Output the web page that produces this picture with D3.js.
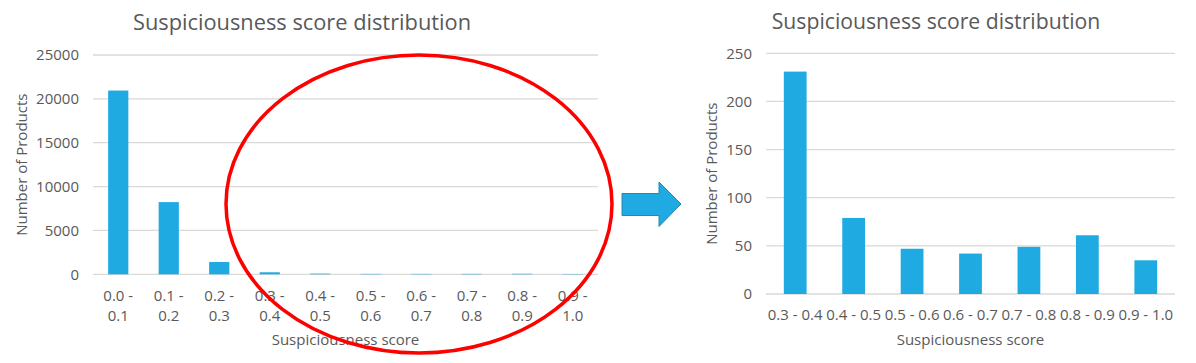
<!DOCTYPE html>
<html>
<head>
<meta charset="utf-8">
<script src="https://cdn.jsdelivr.net/npm/d3@7"></script>
<style>
  body { margin: 0; background: #fff; }
  svg text { font-family: "Open Sans", sans-serif; fill: #595959; }
</style>
</head>
<body>
<div id="chart"></div>
<script>
// data
const allBins = ["0.0 - 0.1", "0.1 - 0.2", "0.2 - 0.3", "0.3 - 0.4", "0.4 - 0.5",
                 "0.5 - 0.6", "0.6 - 0.7", "0.7 - 0.8", "0.8 - 0.9", "0.9 - 1.0"];
const allCounts = [20950, 8230, 1400, 231, 79, 47, 42, 49, 61, 35];
const allTicks = [0, 5000, 10000, 15000, 20000, 25000];

const zoomBins = ["0.3 - 0.4", "0.4 - 0.5", "0.5 - 0.6", "0.6 - 0.7", "0.7 - 0.8", "0.8 - 0.9", "0.9 - 1.0"];
const zoomCounts = [231, 79, 47, 42, 49, 61, 35];
const zoomTicks = [0, 50, 100, 150, 200, 250];

const chartTitle = "Suspiciousness score distribution";
const xTitle = "Suspiciousness score";
const yTitle = "Number of Products";

const width = 1196;
const height = 363;
const barColor = "#1fabe2";

const svg = d3.select("#chart")
  .append("svg")
    .attr("width", width)
    .attr("height", height);

// one excel-style column chart
function drawChart(opt) {
  const x = d3.scaleBand()
    .domain(opt.bins)
    .range([opt.left, opt.right])
    .paddingInner(opt.pad)
    .paddingOuter(opt.pad / 2);
  const y = d3.scaleLinear()
    .domain([0, d3.max(opt.ticks)])
    .range([opt.bottom, opt.top]);

  const g = svg.append("g");

  // gridlines
  g.selectAll(".grid")
    .data(opt.ticks)
    .join("line")
      .attr("x1", opt.left)
      .attr("x2", opt.right)
      .attr("y1", d => y(d))
      .attr("y2", d => y(d))
      .attr("stroke", "#d9d9d9")
      .attr("stroke-width", 1.3);

  // y tick labels
  g.selectAll(".ytick")
    .data(opt.ticks)
    .join("text")
      .attr("x", opt.left - 14)
      .attr("y", d => y(d))
      .attr("dy", "0.35em")
      .attr("text-anchor", "end")
      .style("font-size", "15px")
      .text(d => d);

  // bars
  g.selectAll("rect")
    .data(opt.bins)
    .join("rect")
      .attr("x", d => x(d))
      .attr("width", x.bandwidth())
      .attr("y", (d, i) => y(opt.counts[i]))
      .attr("height", (d, i) => y(0) - y(opt.counts[i]))
      .attr("fill", barColor);

  // x tick labels
  const lab = g.selectAll(".xtick")
    .data(opt.bins)
    .join("text")
      .attr("text-anchor", "middle")
      .style("font-size", "15px");
  if (opt.wrap) {
    lab.selectAll("tspan")
      .data(d => { const p = d.split(" - "); return [p[0] + " -", p[1]]; })
      .join("tspan")
        .attr("x", function() { const d = d3.select(this.parentNode).datum(); return x(d) + x.bandwidth() / 2; })
        .attr("y", (d, i) => opt.tickY + i * 19.5)
        .attr("dy", "0.35em")
        .text(d => d);
  } else {
    lab.attr("x", d => x(d) + x.bandwidth() / 2)
      .attr("y", opt.tickY)
      .attr("dy", "0.35em")
      .text(d => d);
  }

  // axis titles
  g.append("text")
    .attr("x", (opt.left + opt.right) / 2)
    .attr("y", 340)
    .attr("dy", "0.35em")
    .attr("text-anchor", "middle")
    .style("font-size", "15px")
    .text(xTitle);

  g.append("text")
    .attr("transform", `translate(${opt.yTitleX},${(opt.top + opt.bottom) / 2}) rotate(-90)`)
    .attr("dy", "0.35em")
    .attr("text-anchor", "middle")
    .style("font-size", "15px")
    .text(yTitle);

  g.append("text")
    .attr("x", opt.titleX)
    .attr("y", 22)
    .attr("dy", "0.35em")
    .attr("text-anchor", "middle")
    .style("font-size", opt.titleSize + "px")
    .text(chartTitle);
}

drawChart({ bins: allBins, counts: allCounts, ticks: allTicks,
  left: 93, right: 598, top: 55, bottom: 274.3, pad: 0.6,
  wrap: true, tickY: 296, yTitleX: 22, titleX: 302, titleSize: 21.8 });

drawChart({ bins: zoomBins, counts: zoomCounts, ticks: zoomTicks,
  left: 766, right: 1175, top: 53.3, bottom: 294, pad: 0.61,
  wrap: false, tickY: 315, yTitleX: 712, titleX: 936, titleSize: 21.2 });

// red ellipse round the tail bins
svg.append("ellipse")
  .attr("cx", 419)
  .attr("cy", 204)
  .attr("rx", 193)
  .attr("ry", 149)
  .attr("fill", "none")
  .attr("stroke", "#ff0000")
  .attr("stroke-width", 3.5);

// blue arrow pointing to the zoomed chart
const arrow = [[622, 193.5], [659, 193.5], [659, 182], [681, 204], [659, 226.5], [659, 215.5], [622, 215.5]];
svg.append("path")
  .attr("d", d3.line()(arrow) + "Z")
  .attr("fill", barColor)
  .attr("stroke", "#2a86b0")
  .attr("stroke-width", 1);
</script>
</body>
</html>
